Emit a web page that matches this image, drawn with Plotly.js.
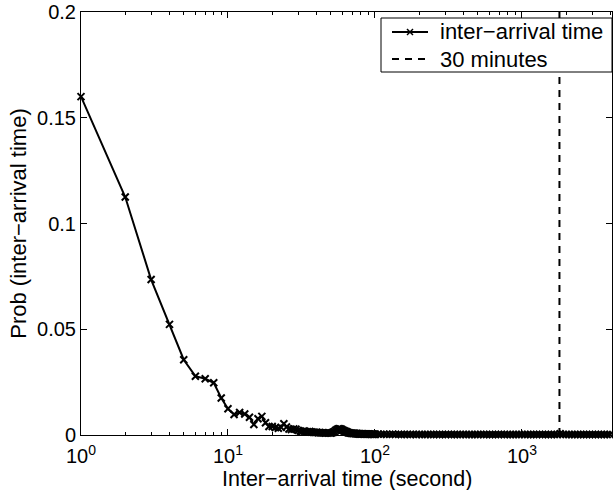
<!DOCTYPE html>
<html>
<head>
<meta charset="utf-8">
<script src="https://cdn.plot.ly/plotly-3.0.1.min.js"></script>
<style>html,body{margin:0;padding:0;background:#fff;}#chart{width:613px;height:490px;}</style>
</head>
<body>
<div id="chart"></div>
<script>
// Inter-arrival time (seconds), 1..100 s at 1 s resolution
const headSeconds = [1,2,3,4,5,6,7,8,9,10,11,12,13,14,15,16,17,18,19,20,
  21,22,23,24,25,26,27,28,29,30,31,32,33,34,35,36,37,38,39,40,
  41,42,43,44,45,46,47,48,49,50,51,52,53,54,55,56,57,58,59,60,
  61,62,63,64,65,66,67,68,69,70,71,72,73,74,75,76,77,78,79,80,
  81,82,83,84,85,86,87,88,89,90,91,92,93,94,95,96,97,98,99,100];
const headProb = [0.160,0.1125,0.0735,0.0523,0.0356,0.0278,0.0266,0.0247,0.0175,0.0124,
  0.0097,0.0106,0.0099,0.0084,0.0050,0.0077,0.0088,0.0058,0.0040,0.0040,
  0.0035,0.0032,0.0036,0.0053,0.0038,0.0028,0.0026,0.0029,0.0027,0.0022,
  0.0019,0.0017,0.0019,0.0016,0.0015,0.0017,0.0014,0.0013,0.0012,0.0013,
  0.0011,0.0012,0.0010,0.0011,0.0010,0.0009,0.0010,0.0009,0.0010,0.0009,
  0.0011,0.0013,0.0016,0.0021,0.0025,0.0028,0.0030,0.0029,0.0027,0.0024,
  0.0021,0.0019,0.0017,0.0015,0.0013,0.0011,0.0010,0.0009,0.0008,0.0008,
  0.0007,0.0008,0.0007,0.0006,0.0007,0.0006,0.0006,0.0005,0.0006,0.0005,
  0.0005,0.0006,0.0005,0.0004,0.0005,0.0005,0.0004,0.0005,0.0004,0.0004,
  0.0005,0.0004,0.0004,0.0003,0.0004,0.0004,0.0003,0.0004,0.0003,0.0004];
// Long tail (sampled), seconds
const tailSeconds = [105,110,115,120,126,132,138,145,151,158,166,174,182,191,200,209,219,229,240,251,
  263,275,288,302,316,331,347,363,380,398,417,437,457,479,501,525,550,575,603,631,
  661,692,724,759,794,832,871,912,955,1000,1047,1096,1148,1202,1259,1318,1380,1445,1514,1585,
  1660,1738,1820,1905,1995,2089,2188,2291,2399,2512,2630,2754,2884,3020,3162,3311,3467,3631,3802,3981];
const tailProb = [0.0004,0.0003,0.0004,0.0003,0.0003,0.0004,0.0003,0.0003,0.0002,0.0003,
  0.0003,0.0002,0.0003,0.0002,0.0003,0.0002,0.0002,0.0003,0.0002,0.0002,
  0.0003,0.0002,0.0002,0.0002,0.0003,0.0002,0.0002,0.0002,0.0002,0.0003,
  0.0002,0.0002,0.0002,0.0002,0.0002,0.0003,0.0002,0.0002,0.0002,0.0002,
  0.0002,0.0002,0.0003,0.0002,0.0002,0.0002,0.0002,0.0002,0.0002,0.0003,
  0.0002,0.0002,0.0002,0.0002,0.0002,0.0003,0.0002,0.0002,0.0002,0.0002,
  0.0002,0.0002,0.0006,0.0003,0.0002,0.0002,0.0002,0.0002,0.0002,0.0002,
  0.0002,0.0002,0.0002,0.0002,0.0002,0.0002,0.0002,0.0002,0.0002,0.0002];
const cutoffSeconds = [1800, 1800];
const cutoffProb = [0, 0.2];
const seriesNames = ['inter\u2212arrival time', '30 minutes'];
const xTickVals = [1, 10, 100, 1000];
const xTickText = ['10<sup>0</sup>', '10<sup>1</sup>', '10<sup>2</sup>', '10<sup>3</sup>'];
const yTickVals = [0, 0.05, 0.1, 0.15, 0.2];
const yTickText = ['0', '0.05', '0.1', '0.15', '0.2'];
const xTitle = 'Inter\u2212arrival time (second)';
const yTitle = 'Prob (inter\u2212arrival time)';

const minorVals = [];
[1, 10, 100, 1000].forEach(d => { for (let m = 2; m <= 9; m++) minorVals.push(d * m); });

const n = Math.min(tailSeconds.length, tailProb.length);
const xs = headSeconds.concat(tailSeconds.slice(0, n));
const ys = headProb.concat(tailProb.slice(0, n));

const FONT = 'Liberation Sans, Arial, Helvetica, sans-serif';

// plot-area geometry (px) used only to place the legend box in paper coordinates
const PL = 81, PR = 612, PT = 12, PB = 435;
const px = v => (v - PL) / (PR - PL);
const py = v => (PB - v) / (PB - PT);

const traces = [
  {x: xs, y: ys, name: seriesNames[0], type: 'scatter', mode: 'lines+markers', cliponaxis: false,
   showlegend: false,
   line: {color: '#000', width: 2},
   marker: {symbol: 'x-thin', size: 7, color: '#000', line: {color: '#000', width: 2}}},
  {x: cutoffSeconds, y: cutoffProb, name: seriesNames[1], type: 'scatter', mode: 'lines', cliponaxis: false,
   showlegend: false,
   line: {color: '#000', width: 2, dash: '7px,6px'}}
];

const row1 = 32, row2 = 59;
const shapes = [
  {type: 'rect', xref: 'paper', yref: 'paper', x0: px(381), x1: px(612), y0: py(72), y1: py(18),
   fillcolor: '#fff', line: {color: '#000', width: 1}, layer: 'above'},
  {type: 'line', xref: 'paper', yref: 'paper', x0: px(392), x1: px(428), y0: py(row1), y1: py(row1),
   line: {color: '#000', width: 2}, layer: 'above'},
  {type: 'line', xref: 'paper', yref: 'paper', x0: px(407), x1: px(413), y0: py(row1 - 3), y1: py(row1 + 3),
   line: {color: '#000', width: 1.5}, layer: 'above'},
  {type: 'line', xref: 'paper', yref: 'paper', x0: px(407), x1: px(413), y0: py(row1 + 3), y1: py(row1 - 3),
   line: {color: '#000', width: 1.5}, layer: 'above'},
  {type: 'line', xref: 'paper', yref: 'paper', x0: px(392), x1: px(428), y0: py(row2), y1: py(row2),
   line: {color: '#000', width: 2, dash: '7px,6px'}, layer: 'above'}
];

const layout = {
  width: 613, height: 490,
  margin: {l: 81, r: 1, t: 12, b: 55},
  paper_bgcolor: '#fff', plot_bgcolor: '#fff',
  font: {family: FONT, size: 20, color: '#000'},
  showlegend: false,
  xaxis: {type: 'log', range: [0, Math.log10(4100)], tickmode: 'array', tickvals: xTickVals, ticktext: xTickText,
          ticks: 'inside', ticklen: 6, tickwidth: 1, tickcolor: '#000',
          showline: true, linecolor: '#000', linewidth: 1, mirror: 'ticks', showgrid: false, zeroline: false,
          ticklabelstandoff: 3, tickfont: {size: 20},
          minor: {tickmode: 'array', tickvals: minorVals, ticks: 'inside', ticklen: 3, tickcolor: '#000', showgrid: false}},
  yaxis: {range: [0, 0.2], tickmode: 'array', tickvals: yTickVals, ticktext: yTickText,
          ticks: 'inside', ticklen: 6, tickwidth: 1, tickcolor: '#000', tickfont: {size: 20},
          showline: true, linecolor: '#000', linewidth: 1, mirror: 'ticks', showgrid: false, zeroline: false,
          title: {text: yTitle, font: {size: 22}, standoff: 4}},
  shapes: shapes,
  annotations: [
    {text: xTitle, xref: 'paper', yref: 'paper', x: 0.5, y: py(492), xanchor: 'center', yanchor: 'bottom',
     borderpad: 0, showarrow: false, font: {size: 21.5}},
    {text: seriesNames[0], xref: 'paper', yref: 'paper', x: px(438), y: py(row1), xanchor: 'left', yanchor: 'middle',
     showarrow: false, font: {size: 22}},
    {text: seriesNames[1], xref: 'paper', yref: 'paper', x: px(438), y: py(row2), xanchor: 'left', yanchor: 'middle',
     showarrow: false, font: {size: 22}}
  ]
};
Plotly.newPlot('chart', traces, layout, {displayModeBar: false, staticPlot: true});
</script>
</body>
</html>
